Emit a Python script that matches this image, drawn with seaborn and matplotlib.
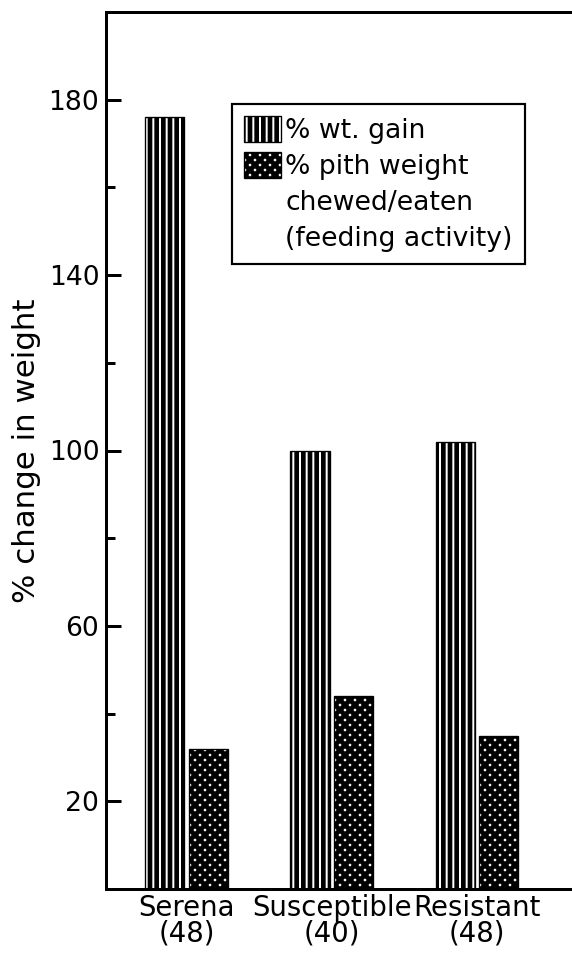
import pandas as pd
import matplotlib.pyplot as plt
import seaborn as sns
from matplotlib.patches import Patch

# values
cultivars = ["Serena\n(48)", "Susceptible\n(40)", "Resistant\n(48)"]
wt_gain = [176, 100, 102]
pith_eaten = [32, 44, 35]
measures = ["% wt. gain", "% pith weight"]
legend_extra = ["chewed/eaten", "(feeding activity)"]
major_ticks = [20, 60, 100, 140, 180]
minor_ticks = [40, 80, 120, 160]

df = pd.DataFrame({
    "cultivar": cultivars * 2,
    "measure": [measures[0]] * len(cultivars) + [measures[1]] * len(cultivars),
    "pct": wt_gain + pith_eaten,
})

sns.set_style("ticks", {"axes.edgecolor": "black", "text.color": "black",
                        "xtick.color": "black", "ytick.color": "black",
                        "axes.labelcolor": "black"})
plt.rcParams["font.family"] = ["DejaVu Sans"]
plt.rcParams["hatch.linewidth"] = 2.8
plt.rcParams["hatch.color"] = "black"

DPI = 120
fig = plt.figure(figsize=(572 / DPI, 959 / DPI), dpi=DPI)
ax = fig.add_axes([106 / 572, 70 / 959, 1 - 106 / 572, 877 / 959])

sns.barplot(data=df, x="cultivar", y="pct", hue="measure", palette=["white", "white"],
            width=0.6, gap=0.1, legend=False, ax=ax)

# hatch patterns: vertical stripes for weight gain, dense cross for pith eaten
hatches = ["|||", "xxxx"]
for cont, h in zip(ax.containers, hatches):
    for bar in cont:
        bar.set_facecolor("white")
        bar.set_edgecolor("black")
        bar.set_linewidth(0.8)
        bar.set_hatch(h)

ax.set_xlim(-0.554, 2.654)
ax.set_ylim(0, 200)
ax.set_yticks(major_ticks)
ax.set_yticks(minor_ticks, minor=True)
ax.set_xlabel("")
ax.set_ylabel("% change in weight", fontsize=18.5)
ax.yaxis.set_label_coords(-0.14, 0.5)

ax.tick_params(axis="y", which="major", direction="in", length=9, width=1.8,
               labelsize=16, pad=4)
ax.tick_params(axis="y", which="minor", direction="in", length=5.4, width=1.8)
ax.tick_params(axis="x", length=0, labelsize=16.5, pad=3)
for lab in ax.get_xticklabels():
    lab.set_linespacing(0.9)

for side in ["left", "bottom", "top"]:
    ax.spines[side].set_linewidth(1.8)
ax.spines["right"].set_visible(False)

handles = [
    Patch(facecolor="white", edgecolor="black", hatch=hatches[0], linewidth=0.8),
    Patch(facecolor="white", edgecolor="black", hatch=hatches[1], linewidth=0.8),
    Patch(facecolor="none", edgecolor="none"),
    Patch(facecolor="none", edgecolor="none"),
]
leg = ax.legend(handles, measures + legend_extra, loc="upper left",
                bbox_to_anchor=(0.27, 0.895), fontsize=16, frameon=True,
                fancybox=False, framealpha=1, edgecolor="black",
                handlelength=1.4, handleheight=1.1, handletextpad=0.15,
                labelspacing=0.3, borderpad=0.45, borderaxespad=0)
leg.get_frame().set_linewidth(1.3)

fig.savefig("out.png", dpi=DPI)
